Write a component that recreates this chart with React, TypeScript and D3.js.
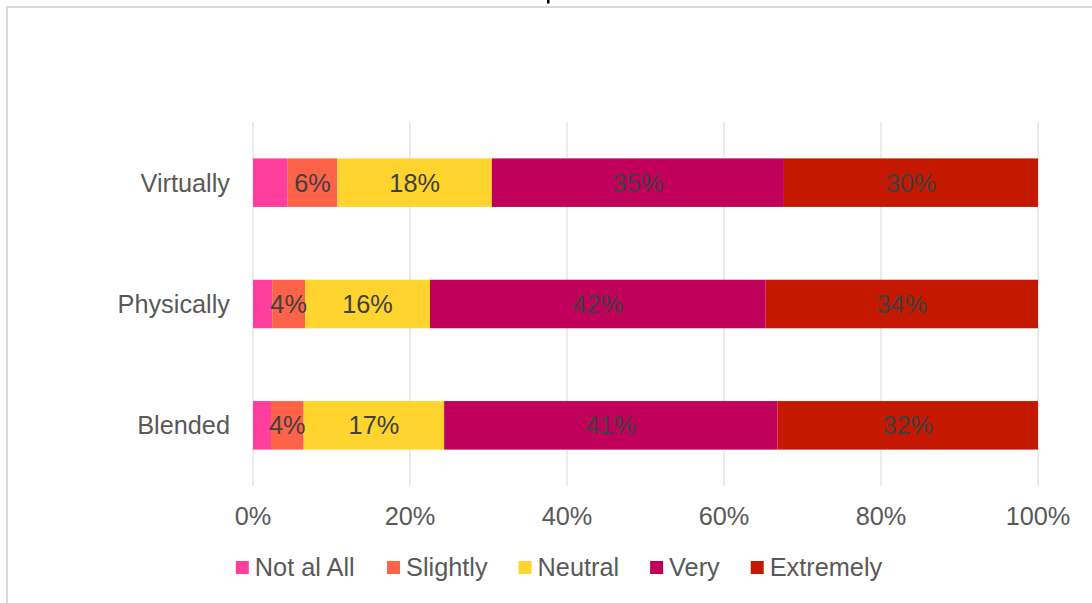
import React from "react";
import * as d3 from "d3";

const categories = ["Virtually", "Physically", "Blended"];
const seriesNames = ["Not al All", "Slightly", "Neutral", "Very", "Extremely"];
const notAtAll = [4.1, 2.4, 2.2];
const slightly = [5.9, 4.1, 4.0];
const neutral = [18.3, 15.6, 17.2];
const very = [34.6, 41.9, 40.8];
const extremely = [30.1, 34.0, 31.9];
const showLabel = [false, true, true, true, true];
const colors = ["#FF3E9E", "#FE6249", "#FFD42E", "#C0005A", "#C41800"];
const xTicks = [0, 0.2, 0.4, 0.6, 0.8, 1];

const W = 1092;
const H = 603;
const FONT = "'Liberation Sans', Arial, sans-serif";

function textWidth(t: string, size: number) {
  const c = document.createElement("canvas").getContext("2d");
  if (!c) return t.length * size * 0.5;
  c.font = `${size}px 'Liberation Sans', Arial, sans-serif`;
  return c.measureText(t).width;
}

export default function App() {
  const seriesValues = [notAtAll, slightly, neutral, very, extremely];
  const rows = categories.map((c, i) => {
    const r: any = { cat: c };
    seriesNames.forEach((s, j) => (r[s] = seriesValues[j][i]));
    return r;
  });
  const stack = d3.stack().keys(seriesNames).offset(d3.stackOffsetExpand);
  const stacked = stack(rows);

  const x = d3.scaleLinear().domain([0, 1]).range([253, 1038]);
  const y = d3
    .scaleBand()
    .domain(categories)
    .range([122, 486])
    .paddingInner(0.6)
    .paddingOuter(0.3);

  const fs = 25.3;
  const legSq = 13;
  const legGap = 6;
  const legSpacing = 31;
  const widths = seriesNames.map((s) => textWidth(s, fs));
  const total =
    widths.reduce((a, b) => a + b, 0) +
    seriesNames.length * (legSq + legGap) +
    (seriesNames.length - 1) * legSpacing;
  let lx = 559 - total / 2;
  const legendItems = seriesNames.map((s, i) => {
    const item = { s, x: lx, color: colors[i] };
    lx += legSq + legGap + widths[i] + legSpacing;
    return item;
  });

  return (
    <svg
      width={W}
      height={H}
      style={{ position: "absolute", left: 0, top: 0, background: "#fff" }}
      fontFamily={FONT}
    >
      <rect x={0} y={0} width={W} height={H} fill="#fff" />
      <rect x={7} y={7} width={W + 20} height={H + 20} fill="none" stroke="#d9d9d9" strokeWidth={2} />
      <rect x={547} y={0} width={2.5} height={3.5} fill="#000" />
      {xTicks.map((t) => (
        <line key={t} x1={x(t)} x2={x(t)} y1={122} y2={486} stroke="#d9d9d9" strokeWidth={1} />
      ))}
      {stacked.map((layer, j) => (
        <g key={layer.key} fill={colors[j]}>
          {layer.map((d: any, i: number) => (
            <rect
              key={i}
              x={x(d[0])}
              y={y(d.data.cat)}
              width={x(d[1]) - x(d[0])}
              height={y.bandwidth()}
            />
          ))}
        </g>
      ))}
      {stacked.map((layer, j) =>
        showLabel[j]
          ? layer.map((d: any, i: number) => (
              <text
                key={layer.key + i}
                x={(x(d[0]) + x(d[1])) / 2}
                y={(y(d.data.cat) as number) + y.bandwidth() / 2 + 9}
                textAnchor="middle"
                fontSize={fs}
                fill="#404040"
              >
                {`${Math.round(seriesValues[j][i])}%`}
              </text>
            ))
          : null
      )}
      {categories.map((c) => (
        <text
          key={c}
          x={230}
          y={(y(c) as number) + y.bandwidth() / 2 + 9}
          textAnchor="end"
          fontSize={fs}
          fill="#595959"
        >
          {c}
        </text>
      ))}
      {xTicks.map((t) => (
        <text key={t} x={x(t)} y={525} textAnchor="middle" fontSize={fs} fill="#595959">
          {d3.format(".0%")(t)}
        </text>
      ))}
      {legendItems.map((it) => (
        <g key={it.s}>
          <rect x={it.x} y={561} width={legSq} height={legSq} fill={it.color} />
          <text x={it.x + legSq + legGap} y={576} fontSize={fs} fill="#595959">
            {it.s}
          </text>
        </g>
      ))}
    </svg>
  );
}
